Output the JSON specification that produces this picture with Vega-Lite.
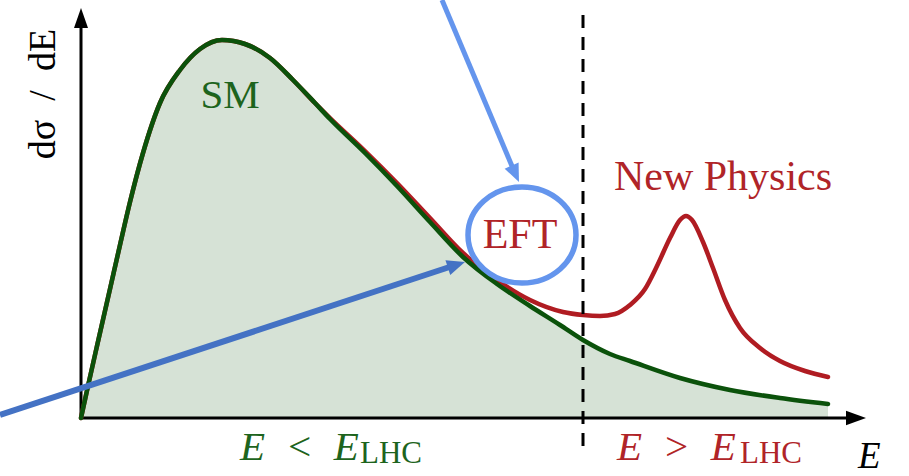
{
  "$schema": "https://vega.github.io/schema/vega-lite/v6.json",
  "width": 909,
  "height": 476,
  "autosize": {"type": "none"},
  "padding": 0,
  "background": "white",
  "config": {"view": {"stroke": null}},
  "datasets": {
    "sm": [
      {"E": 0, "v": 0}, {"E": 0.07, "v": 0.32}, {"E": 0.16, "v": 0.72}, {"E": 0.29, "v": 1.29},
      {"E": 0.39, "v": 1.73}, {"E": 0.49, "v": 2.16}, {"E": 0.62, "v": 2.65}, {"E": 0.79, "v": 3.15},
      {"E": 0.99, "v": 3.48}, {"E": 1.19, "v": 3.69}, {"E": 1.41, "v": 3.78}, {"E": 1.64, "v": 3.74},
      {"E": 1.89, "v": 3.6}, {"E": 2.12, "v": 3.38}, {"E": 2.34, "v": 3.15}, {"E": 2.49, "v": 2.99},
      {"E": 2.84, "v": 2.65}, {"E": 3.16, "v": 2.32}, {"E": 3.49, "v": 1.96}, {"E": 3.82, "v": 1.61},
      {"E": 4.16, "v": 1.34}, {"E": 4.49, "v": 1.12}, {"E": 4.79, "v": 0.93}, {"E": 5.02, "v": 0.78},
      {"E": 5.29, "v": 0.64}, {"E": 5.49, "v": 0.57}, {"E": 5.99, "v": 0.4}, {"E": 6.49, "v": 0.28},
      {"E": 6.99, "v": 0.2}, {"E": 7.47, "v": 0.14}
    ],
    "np": [
      {"E": 0, "v": 0}, {"E": 0.07, "v": 0.32}, {"E": 0.16, "v": 0.72}, {"E": 0.29, "v": 1.29},
      {"E": 0.39, "v": 1.73}, {"E": 0.49, "v": 2.16}, {"E": 0.62, "v": 2.65}, {"E": 0.79, "v": 3.15},
      {"E": 0.99, "v": 3.48}, {"E": 1.19, "v": 3.69}, {"E": 1.41, "v": 3.78}, {"E": 1.64, "v": 3.74},
      {"E": 1.89, "v": 3.6}, {"E": 2.12, "v": 3.38}, {"E": 2.34, "v": 3.15}, {"E": 2.49, "v": 3.0},
      {"E": 2.84, "v": 2.67}, {"E": 3.16, "v": 2.35}, {"E": 3.49, "v": 2.0}, {"E": 3.82, "v": 1.65},
      {"E": 4.16, "v": 1.38}, {"E": 4.49, "v": 1.18}, {"E": 4.82, "v": 1.06}, {"E": 5.02, "v": 1.03},
      {"E": 5.19, "v": 1.02}, {"E": 5.34, "v": 1.04}, {"E": 5.49, "v": 1.13}, {"E": 5.64, "v": 1.29},
      {"E": 5.76, "v": 1.52}, {"E": 5.89, "v": 1.8}, {"E": 5.99, "v": 1.98}, {"E": 6.05, "v": 2.02},
      {"E": 6.11, "v": 1.98}, {"E": 6.22, "v": 1.76}, {"E": 6.32, "v": 1.5}, {"E": 6.44, "v": 1.18},
      {"E": 6.59, "v": 0.9}, {"E": 6.79, "v": 0.7}, {"E": 6.99, "v": 0.57}, {"E": 7.24, "v": 0.47},
      {"E": 7.47, "v": 0.41}
    ]
  },
  "encoding": {
    "x": {"field": "E", "type": "quantitative", "axis": null,
          "scale": {"domain": [-0.81, 8.28], "nice": false, "zero": false}},
    "y": {"field": "v", "type": "quantitative", "axis": null,
          "scale": {"domain": [-0.58, 4.18], "nice": false, "zero": false}}
  },
  "layer": [
    {
      "data": {"name": "sm"},
      "mark": {"type": "area", "interpolate": "monotone", "color": "#d6e2d6", "opacity": 1},
      "encoding": {"y2": {"datum": 0}}
    },
    {
      "data": {"values": [{"E": 0, "E2": 7.75, "v": 0}]},
      "mark": {"type": "rule", "color": "black", "strokeWidth": 3},
      "encoding": {"x2": {"field": "E2"}}
    },
    {
      "data": {"values": [{"E": 0, "v": 0, "v2": 4.0}]},
      "mark": {"type": "rule", "color": "black", "strokeWidth": 3},
      "encoding": {"y2": {"field": "v2"}}
    },
    {
      "data": {"values": [{"E": 0, "v": 4.0}]},
      "mark": {"type": "point", "shape": "M0,-1L0.7,1L-0.7,1Z", "size": 400, "filled": true, "color": "black", "opacity": 1},
      "encoding": {}
    },
    {
      "data": {"values": [{"E": 7.75, "v": 0}]},
      "mark": {"type": "point", "shape": "M1,0L-1,0.72L-1,-0.72Z", "size": 400, "filled": true, "color": "black", "opacity": 1},
      "encoding": {}
    },
    {
      "data": {"name": "np"},
      "mark": {"type": "line", "interpolate": "monotone", "color": "#b01c22", "strokeWidth": 4.5, "strokeCap": "round"},
      "encoding": {}
    },
    {
      "data": {"name": "sm"},
      "mark": {"type": "line", "interpolate": "monotone", "color": "#0b520b", "strokeWidth": 4.5, "strokeCap": "round"},
      "encoding": {}
    },
    {
      "data": {"values": [{"E": 5.02, "v": 4.03, "v2": -0.3}]},
      "mark": {"type": "rule", "color": "black", "strokeWidth": 3, "strokeDash": [13, 9]},
      "encoding": {"y2": {"field": "v2"}}
    },
    {
      "data": {"values": [{"E": 1.49, "v": 3.1, "label": "SM"}]},
      "mark": {"type": "text", "font": "Liberation Serif", "fontSize": 41, "color": "#1d641d", "align": "center", "baseline": "alphabetic"},
      "encoding": {"text": {"field": "label"}}
    },
    {
      "data": {"values": [{"E": 4.39, "v": 1.7, "label": "EFT"}, {"E": 6.42, "v": 2.28, "label": "New Physics"}]},
      "mark": {"type": "text", "font": "Liberation Serif", "fontSize": 42, "color": "#b02428", "align": "center", "baseline": "alphabetic"},
      "encoding": {"text": {"field": "label"}}
    },
    {
      "data": {"values": [{"E": 1.59, "v": -0.42, "label": "E\u2002<\u2002E"}]},
      "mark": {"type": "text", "font": "Liberation Serif", "fontStyle": "italic", "fontSize": 41, "color": "#1d641d", "align": "left", "baseline": "alphabetic"},
      "encoding": {"text": {"field": "label"}}
    },
    {
      "data": {"values": [{"E": 2.79, "v": -0.45, "label": "LHC"}]},
      "mark": {"type": "text", "font": "Liberation Serif", "fontSize": 31, "color": "#1d641d", "align": "left", "baseline": "alphabetic"},
      "encoding": {"text": {"field": "label"}}
    },
    {
      "data": {"values": [{"E": 5.36, "v": -0.42, "label": "E\u2002>\u2002E"}]},
      "mark": {"type": "text", "font": "Liberation Serif", "fontStyle": "italic", "fontSize": 41, "color": "#b02428", "align": "left", "baseline": "alphabetic"},
      "encoding": {"text": {"field": "label"}}
    },
    {
      "data": {"values": [{"E": 6.59, "v": -0.45, "label": "LHC"}]},
      "mark": {"type": "text", "font": "Liberation Serif", "fontSize": 31, "color": "#b02428", "align": "left", "baseline": "alphabetic"},
      "encoding": {"text": {"field": "label"}}
    },
    {
      "data": {"values": [{"E": 7.77, "v": -0.5, "label": "E"}]},
      "mark": {"type": "text", "font": "Liberation Serif", "fontStyle": "italic", "fontSize": 37, "color": "black", "align": "left", "baseline": "alphabetic"},
      "encoding": {"text": {"field": "label"}}
    },
    {
      "data": {"values": [{"E": -0.26, "v": 3.24, "label": "dσ\u2002/\u2002dE"}]},
      "mark": {"type": "text", "font": "Liberation Serif", "fontSize": 38, "color": "black", "align": "center", "baseline": "alphabetic", "angle": 270},
      "encoding": {"text": {"field": "label"}}
    },
    {
      "data": {"values": [{"E": 4.41, "v": 1.83}]},
      "mark": {"type": "point", "shape": "M-1,0C-1,-0.4915,-0.5523,-0.89,0,-0.89C0.5523,-0.89,1,-0.4915,1,0C1,0.4915,0.5523,0.89,0,0.89C-0.5523,0.89,-1,0.4915,-1,0Z", "size": 11664, "filled": false, "color": "#6495ed", "strokeWidth": 5.5, "opacity": 1},
      "encoding": {}
    },
    {
      "data": {"values": [{"E": 3.61, "v": 4.18}, {"E": 4.327, "v": 2.478}]},
      "mark": {"type": "line", "color": "#6495ed", "strokeWidth": 5},
      "encoding": {}
    },
    {
      "data": {"values": [{"E": 4.343, "v": 2.442}]},
      "mark": {"type": "point", "shape": "M0,-1L0.85,1L-0.85,1Z", "size": 324, "angle": 155.8, "filled": true, "color": "#6495ed", "opacity": 1},
      "encoding": {}
    },
    {
      "data": {"values": [{"E": -0.81, "v": 0.03}, {"E": 3.716, "v": 1.52}]},
      "mark": {"type": "line", "color": "#4472c4", "strokeWidth": 6},
      "encoding": {}
    },
    {
      "data": {"values": [{"E": 3.754, "v": 1.532}]},
      "mark": {"type": "point", "shape": "M0,-1L0.85,1L-0.85,1Z", "size": 324, "angle": 71.8, "filled": true, "color": "#4472c4", "opacity": 1},
      "encoding": {}
    }
  ]
}
